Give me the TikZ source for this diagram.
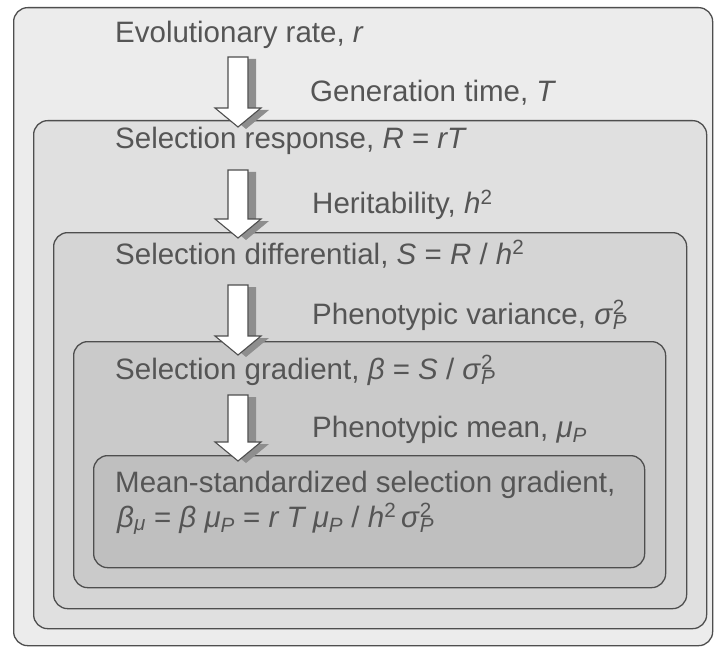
\documentclass[tikz,border=0pt]{standalone}
\usepackage{fontspec}
\setmainfont{Liberation Sans}
\usetikzlibrary{calc}

\definecolor{edge}{HTML}{4E4E4E}
\definecolor{ink}{HTML}{555555}
\definecolor{lvlA}{HTML}{ECECEC}
\definecolor{lvlB}{HTML}{E0E0E0}
\definecolor{lvlC}{HTML}{D5D5D5}
\definecolor{lvlD}{HTML}{CACACA}
\definecolor{lvlE}{HTML}{BFBFBF}
\definecolor{shade}{HTML}{8E8E8E}

% superscript stacked over a subscript
\newcommand{\supsub}[2]{\rlap{\textsuperscript{#1}}\textsubscript{#2}}

\begin{document}
\begin{tikzpicture}[x=1pt,y=-1pt,
  level/.style={draw=edge, line width=1.3pt, rounded corners=14pt,
    fill=#1, anchor=north west, inner sep=0pt},
  label/.style={anchor=base west, inner sep=0pt, text=ink,
    font=\fontsize{29.5}{35}\selectfont},
  fatarrow/.style={to path={let \p1=(\tikztostart), \p2=(\tikztotarget) in
    (\x1-10pt,\y1) -- (\x1-10pt,\y2+19pt) -- (\x1-23pt,\y2+19pt) -- (\x1,\y2)
    -- (\x1+23pt,\y2+19pt) -- (\x1+10pt,\y2+19pt) -- (\x1+10pt,\y1) -- cycle}},
  arrowbody/.style={draw=edge, line width=1.1pt, fill=white, line join=miter},
  arrowshadow/.style={draw=none, fill=shade}]

\useasboundingbox (0,0) rectangle (718,650);
\fill[white] (0,0) rectangle (718,650);

% nested levels
\node[level=lvlA, minimum width=699pt, minimum height=638pt] (b1) at (13,7) {};
\node[level=lvlB, minimum width=673pt, minimum height=508pt] (b2) at (33,120) {};
\node[level=lvlC, minimum width=633pt, minimum height=376pt] (b3) at (53,232) {};
\node[level=lvlD, minimum width=592pt, minimum height=246pt] (b4) at (73,341) {};
\node[level=lvlE, minimum width=551pt, minimum height=112pt] (b5) at (93,455) {};

% labels
\node[label] (t1) at (115,43) {Evolutionary rate, \textit{r}};
\node[label] (t2) at (310,102) {Generation time, \textit{T}};
\node[label] (t3) at (115,149) {Selection response, \textit{R} = \textit{rT}};
\node[label] (t4) at (312,214) {Heritability, \textit{h}\textsuperscript{2}};
\node[label] (t5) at (115,264) {Selection differential, \textit{S} = \textit{R} / \textit{h}\textsuperscript{2}};
\node[label] (t6) at (312,324) {Phenotypic variance, \textit{σ}\supsub{2}{\textit{P}}};
\node[label] (t7) at (115,379) {Selection gradient, \textit{β} = \textit{S} / \textit{σ}\supsub{2}{\textit{P}}};
\node[label] (t8) at (312,437) {Phenotypic mean, \textit{μ}\textsubscript{\textit{P}}};
\node[label] (t9) at (115,492) {Mean-standardized selection gradient,};
\node[label] (t10) at (117,527) {\textit{β}\textsubscript{\textit{μ}} = \textit{β μ}\textsubscript{\textit{P}} = \textit{r T μ}\textsubscript{\textit{P}} / \textit{h}\textsuperscript{2}\,\textit{σ}\supsub{2}{\textit{P}}};

% arrow ends
\coordinate (a1s) at (238,57);  \coordinate (a1e) at (238,127);
\coordinate (a2s) at (238,170); \coordinate (a2e) at (238,238);
\coordinate (a3s) at (238,285); \coordinate (a3e) at (238,355);
\coordinate (a4s) at (238,395); \coordinate (a4e) at (238,461);

\foreach \s/\e in {a1s/a1e, a2s/a2e, a3s/a3e, a4s/a4e}{
  \draw[arrowshadow, fatarrow] ([shift={(8,2)}]\s) to ([shift={(8,2)}]\e);
  \draw[arrowbody, fatarrow] (\s) to (\e);
}
\end{tikzpicture}
\end{document}
